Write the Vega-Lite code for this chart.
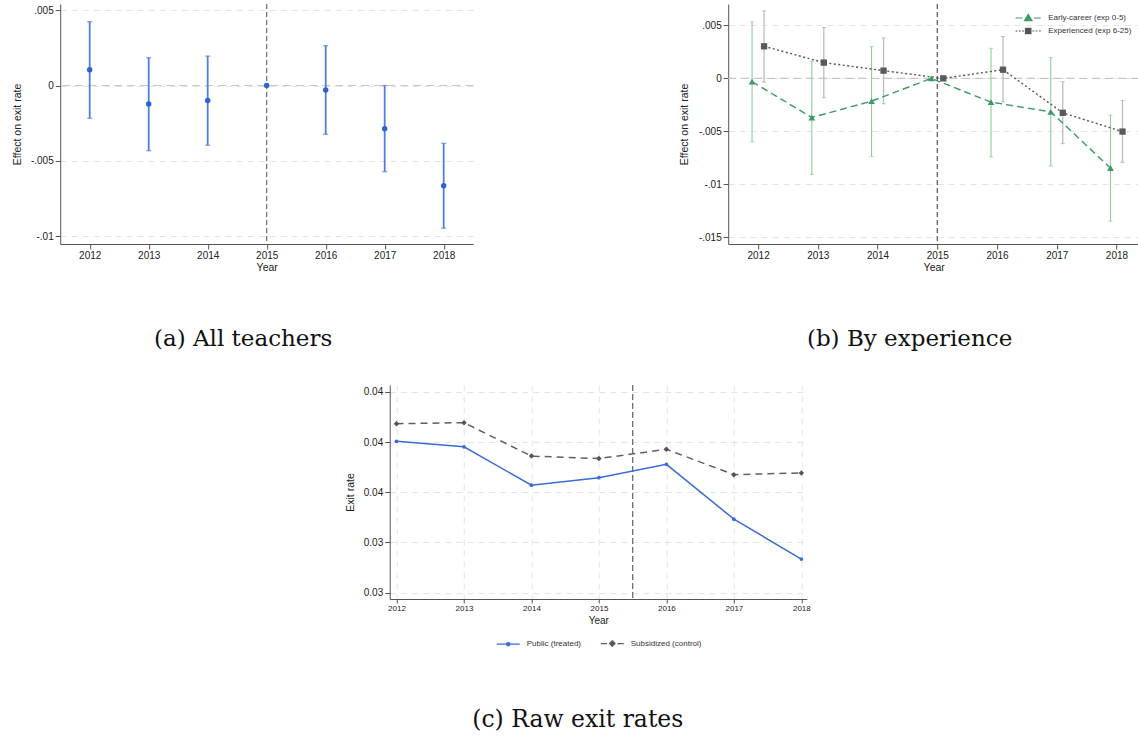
{
  "$schema": "https://vega.github.io/schema/vega-lite/v6.json",
  "autosize": {"type": "pad"},
  "padding": {"left": 12, "top": 3, "right": 0, "bottom": 0},
  "background": "white",
  "config": {
    "view": {"stroke": null},
    "font": "Liberation Sans",
    "axis": {
      "domainColor": "#555555",
      "tickColor": "#555555",
      "labelColor": "#222222",
      "titleColor": "#222222",
      "labelFont": "Liberation Sans",
      "titleFont": "Liberation Sans",
      "titleFontWeight": "normal",
      "labelFontSize": 10,
      "titleFontSize": 10.5,
      "gridColor": "#E4E4E4",
      "gridDash": [6, 5],
      "tickSize": 5,
      "labelPadding": 2
    },
    "legend": {
      "labelFont": "Liberation Sans",
      "labelFontSize": 8,
      "labelColor": "#333333",
      "layout": {"bottom": {"anchor": "middle"}}
    },
    "title": {
      "font": "DejaVu Serif",
      "fontWeight": "normal",
      "fontSize": 23,
      "color": "#111111",
      "orient": "bottom",
      "frame": "bounds"
    }
  },
  "datasets": {
    "all": [
      {"year": 2012, "est": 0.00104, "lo": -0.00217, "hi": 0.00423},
      {"year": 2013, "est": -0.00122, "lo": -0.00432, "hi": 0.00184},
      {"year": 2014, "est": -0.0010, "lo": -0.00396, "hi": 0.00195},
      {"year": 2015, "est": 0, "lo": null, "hi": null},
      {"year": 2016, "est": -0.00029, "lo": -0.00323, "hi": 0.00264},
      {"year": 2017, "est": -0.00286, "lo": -0.00571, "hi": 0.0},
      {"year": 2018, "est": -0.00664, "lo": -0.00945, "hi": -0.00383}
    ],
    "byexp": [
      {"year": 2012, "group": "Early-career (exp 0-5)", "est": -0.00031, "lo": -0.0060, "hi": 0.00533},
      {"year": 2013, "group": "Early-career (exp 0-5)", "est": -0.00369, "lo": -0.00906, "hi": 0.00161},
      {"year": 2014, "group": "Early-career (exp 0-5)", "est": -0.00215, "lo": -0.00736, "hi": 0.0030},
      {"year": 2015, "group": "Early-career (exp 0-5)", "est": 0, "lo": null, "hi": null},
      {"year": 2016, "group": "Early-career (exp 0-5)", "est": -0.00224, "lo": -0.00741, "hi": 0.00284},
      {"year": 2017, "group": "Early-career (exp 0-5)", "est": -0.00316, "lo": -0.00827, "hi": 0.00196},
      {"year": 2018, "group": "Early-career (exp 0-5)", "est": -0.00846, "lo": -0.01348, "hi": -0.00347},
      {"year": 2012, "group": "Experienced (exp 6-25)", "est": 0.00303, "lo": -0.00035, "hi": 0.00637},
      {"year": 2013, "group": "Experienced (exp 6-25)", "est": 0.00149, "lo": -0.00183, "hi": 0.0048},
      {"year": 2014, "group": "Experienced (exp 6-25)", "est": 0.00073, "lo": -0.0024, "hi": 0.00382},
      {"year": 2015, "group": "Experienced (exp 6-25)", "est": 0, "lo": null, "hi": null},
      {"year": 2016, "group": "Experienced (exp 6-25)", "est": 0.00082, "lo": -0.00221, "hi": 0.00395},
      {"year": 2017, "group": "Experienced (exp 6-25)", "est": -0.00325, "lo": -0.00616, "hi": -0.00031},
      {"year": 2018, "group": "Experienced (exp 6-25)", "est": -0.00502, "lo": -0.00792, "hi": -0.00208}
    ],
    "raw": [
      {"year": 2012, "sector": "Public (treated)", "rate": 0.03803},
      {"year": 2013, "sector": "Public (treated)", "rate": 0.03781},
      {"year": 2014, "sector": "Public (treated)", "rate": 0.03628},
      {"year": 2015, "sector": "Public (treated)", "rate": 0.03658},
      {"year": 2016, "sector": "Public (treated)", "rate": 0.03711},
      {"year": 2017, "sector": "Public (treated)", "rate": 0.03493},
      {"year": 2018, "sector": "Public (treated)", "rate": 0.03334},
      {"year": 2012, "sector": "Subsidized (control)", "rate": 0.03873},
      {"year": 2013, "sector": "Subsidized (control)", "rate": 0.03877},
      {"year": 2014, "sector": "Subsidized (control)", "rate": 0.03744},
      {"year": 2015, "sector": "Subsidized (control)", "rate": 0.03734},
      {"year": 2016, "sector": "Subsidized (control)", "rate": 0.03771},
      {"year": 2017, "sector": "Subsidized (control)", "rate": 0.0367},
      {"year": 2018, "sector": "Subsidized (control)", "rate": 0.03677}
    ]
  },
  "spacing": 33,
  "center": true,
  "resolve": {"scale": {"color": "independent"}, "legend": {"color": "independent"}},
  "vconcat": [
    {
      "spacing": 205,
      "resolve": {"scale": {"color": "independent"}, "legend": {"color": "independent"}},
      "hconcat": [
        {
          "width": 413,
          "height": 240,
          "title": {"text": "(a) All teachers", "offset": 55},
          "data": {"name": "all"},
          "layer": [
            {
              "data": {"values": [{"ref": 0}]},
              "mark": {"type": "rule", "color": "#C6C6C6", "strokeWidth": 1.2, "strokeDash": [8, 5]},
              "encoding": {"y": {"field": "ref", "type": "quantitative", "title": "Effect on exit rate"}}
            },
            {
              "data": {"values": [{"ref": 2015}]},
              "mark": {"type": "rule", "color": "#6B6B6B", "strokeWidth": 1.2, "strokeDash": [5, 3]},
              "encoding": {"x": {"field": "ref", "type": "quantitative", "title": "Year"}}
            },
            {
              "mark": {"type": "rule", "color": "#4F7FDB", "strokeWidth": 1.8},
              "encoding": {
                "x": {"field": "year", "type": "quantitative", "title": "Year"},
                "y": {"field": "lo", "type": "quantitative", "title": "Effect on exit rate"},
                "y2": {"field": "hi"}
              }
            },
            {
              "mark": {"type": "tick", "orient": "horizontal", "color": "#4F7FDB", "size": 5, "thickness": 1.3},
              "encoding": {
                "x": {"field": "year", "type": "quantitative", "title": "Year"},
                "y": {"field": "lo", "type": "quantitative", "title": "Effect on exit rate"}
              }
            },
            {
              "mark": {"type": "tick", "orient": "horizontal", "color": "#4F7FDB", "size": 5, "thickness": 1.3},
              "encoding": {
                "x": {"field": "year", "type": "quantitative", "title": "Year"},
                "y": {"field": "hi", "type": "quantitative", "title": "Effect on exit rate"}
              }
            },
            {
              "mark": {"type": "circle", "color": "#2F62CF", "size": 30, "opacity": 1},
              "encoding": {
                "x": {
                  "field": "year", "type": "quantitative", "title": "Year",
                  "scale": {"domain": [2011.5, 2018.5], "nice": false, "zero": false},
                  "axis": {"values": [2012, 2013, 2014, 2015, 2016, 2017, 2018], "format": "d", "grid": false, "labelPadding": 1, "titlePadding": 2}
                },
                "y": {
                  "field": "est", "type": "quantitative", "title": "Effect on exit rate",
                  "scale": {"domain": [-0.0105, 0.0054], "nice": false, "zero": false},
                  "axis": {
                    "values": [-0.01, -0.005, 0, 0.005],
                    "labelExpr": "(datum.value < 0 ? '-' : '') + replace(format(abs(datum.value), '~r'), '0.', '.')",
                    "grid": true, "titlePadding": 8
                  }
                }
              }
            }
          ]
        },
        {
          "width": 411,
          "height": 240,
          "title": {"text": "(b) By experience", "offset": 55},
          "data": {"name": "byexp"},
          "layer": [
            {
              "data": {"values": [{"ref": 0}]},
              "mark": {"type": "rule", "color": "#C6C6C6", "strokeWidth": 1.2, "strokeDash": [8, 5]},
              "encoding": {"y": {"field": "ref", "type": "quantitative", "title": "Effect on exit rate"}}
            },
            {
              "data": {"values": [{"ref": 2015}]},
              "mark": {"type": "rule", "color": "#555555", "strokeWidth": 1.2, "strokeDash": [5, 3]},
              "encoding": {"x": {"field": "ref", "type": "quantitative", "title": "Year"}}
            },
            {
              "transform": [{"filter": "datum.group === 'Early-career (exp 0-5)'"}],
              "layer": [
                {"mark": {"type": "rule", "color": "#8FCB9F", "strokeWidth": 1.1, "xOffset": -6},
                 "encoding": {"x": {"field": "year", "type": "quantitative", "title": "Year"}, "y": {"field": "lo", "type": "quantitative", "title": "Effect on exit rate"}, "y2": {"field": "hi"}}},
                {"mark": {"type": "tick", "orient": "horizontal", "color": "#8FCB9F", "size": 4, "thickness": 1, "xOffset": -6},
                 "encoding": {"x": {"field": "year", "type": "quantitative", "title": "Year"}, "y": {"field": "lo", "type": "quantitative", "title": "Effect on exit rate"}}},
                {"mark": {"type": "tick", "orient": "horizontal", "color": "#8FCB9F", "size": 4, "thickness": 1, "xOffset": -6},
                 "encoding": {"x": {"field": "year", "type": "quantitative", "title": "Year"}, "y": {"field": "hi", "type": "quantitative", "title": "Effect on exit rate"}}}
              ]
            },
            {
              "transform": [{"filter": "datum.group === 'Experienced (exp 6-25)'"}],
              "layer": [
                {"mark": {"type": "rule", "color": "#BDBDBD", "strokeWidth": 1.3, "xOffset": 6},
                 "encoding": {"x": {"field": "year", "type": "quantitative", "title": "Year"}, "y": {"field": "lo", "type": "quantitative", "title": "Effect on exit rate"}, "y2": {"field": "hi"}}},
                {"mark": {"type": "tick", "orient": "horizontal", "color": "#A8A8A8", "size": 4, "thickness": 1, "xOffset": 6},
                 "encoding": {"x": {"field": "year", "type": "quantitative", "title": "Year"}, "y": {"field": "lo", "type": "quantitative", "title": "Effect on exit rate"}}},
                {"mark": {"type": "tick", "orient": "horizontal", "color": "#A8A8A8", "size": 4, "thickness": 1, "xOffset": 6},
                 "encoding": {"x": {"field": "year", "type": "quantitative", "title": "Year"}, "y": {"field": "hi", "type": "quantitative", "title": "Effect on exit rate"}}}
              ]
            },
            {
              "transform": [{"filter": "datum.group === 'Early-career (exp 0-5)'"}],
              "mark": {"type": "line", "strokeWidth": 1.4, "strokeDash": [7, 4], "xOffset": -6},
              "encoding": {
                "x": {"field": "year", "type": "quantitative", "title": "Year"},
                "y": {"field": "est", "type": "quantitative", "title": "Effect on exit rate"},
                "color": {
                  "field": "group", "type": "nominal",
                  "scale": {"domain": ["Early-career (exp 0-5)", "Experienced (exp 6-25)"], "range": ["#3E9A62", "#555555"]},
                  "legend": {
                    "title": null, "orient": "top-right", "offset": 7, "symbolSize": 144, "rowPadding": 0, "labelOffset": 13,
                    "encode": {"symbols": {"update": {
                      "shape": {"signal": "datum.value === 'Early-career (exp 0-5)' ? 'M-2.1,0H-0.95M0.95,0H2.1M0,-0.6L0.62,0.45L-0.62,0.45Z' : 'M-2.1,0H-1.8M-1.55,0H-1.25M-1,0H-0.7M0.7,0H1M1.25,0H1.55M1.8,0H2.1M-0.45,-0.45H0.45V0.45H-0.45Z'"},
                      "fill": {"signal": "datum.value === 'Early-career (exp 0-5)' ? '#3E9A62' : '#555555'"},
                      "stroke": {"signal": "datum.value === 'Early-career (exp 0-5)' ? '#3E9A62' : '#555555'"},
                      "strokeDash": {"value": []},
                      "strokeWidth": {"value": 1.2},
                      "opacity": {"value": 1}
                    }}}
                  }
                }
              }
            },
            {
              "transform": [{"filter": "datum.group === 'Experienced (exp 6-25)'"}],
              "mark": {"type": "line", "strokeWidth": 1.4, "strokeDash": [2, 2.5], "xOffset": 6},
              "encoding": {
                "x": {"field": "year", "type": "quantitative", "title": "Year"},
                "y": {"field": "est", "type": "quantitative", "title": "Effect on exit rate"},
                "color": {"field": "group", "type": "nominal"}
              }
            },
            {
              "transform": [{"filter": "datum.group === 'Early-career (exp 0-5)'"}],
              "mark": {"type": "point", "shape": "triangle-up", "filled": true, "color": "#3E9A62", "size": 45, "opacity": 1, "xOffset": -6},
              "encoding": {
                "x": {"field": "year", "type": "quantitative", "title": "Year"},
                "y": {"field": "est", "type": "quantitative", "title": "Effect on exit rate"}
              }
            },
            {
              "transform": [{"filter": "datum.group === 'Experienced (exp 6-25)'"}],
              "mark": {"type": "square", "color": "#5A5A5A", "size": 40, "opacity": 1, "xOffset": 6},
              "encoding": {
                "x": {
                  "field": "year", "type": "quantitative", "title": "Year",
                  "scale": {"domain": [2011.5, 2018.38], "nice": false, "zero": false},
                  "axis": {"values": [2012, 2013, 2014, 2015, 2016, 2017, 2018], "format": "d", "grid": false, "labelPadding": 1, "titlePadding": 2}
                },
                "y": {
                  "field": "est", "type": "quantitative", "title": "Effect on exit rate",
                  "scale": {"domain": [-0.01563, 0.00702], "nice": false, "zero": false},
                  "axis": {
                    "values": [-0.015, -0.01, -0.005, 0, 0.005],
                    "labelExpr": "(datum.value < 0 ? '-' : '') + replace(format(abs(datum.value), '~r'), '0.', '.')",
                    "grid": true, "titlePadding": 9
                  }
                }
              }
            }
          ]
        }
      ]
    },
    {
      "width": 417,
      "height": 214,
      "title": {"text": "(c) Raw exit rates", "offset": 59, "fontSize": 23.5},
      "data": {"name": "raw"},
      "layer": [
        {
          "data": {"values": [{"ref": 2015.5}]},
          "mark": {"type": "rule", "color": "#6E6E6E", "strokeWidth": 1.3, "strokeDash": [6, 3]},
          "encoding": {"x": {"field": "ref", "type": "quantitative", "title": "Year"}}
        },
        {
          "transform": [{"filter": "datum.sector === 'Public (treated)'"}],
          "mark": {"type": "line", "strokeWidth": 1.5},
          "encoding": {
            "x": {"field": "year", "type": "quantitative", "title": "Year"},
            "y": {"field": "rate", "type": "quantitative", "title": "Exit rate"},
            "color": {
              "field": "sector", "type": "nominal",
              "scale": {"domain": ["Public (treated)", "Subsidized (control)"], "range": ["#3A6BD6", "#606060"]},
              "legend": {
                "title": null, "orient": "bottom", "direction": "horizontal", "symbolSize": 529, "labelOffset": 6, "columnPadding": 16, "offset": 6,
                "encode": {"symbols": {"update": {
                  "shape": {"signal": "datum.value === 'Public (treated)' ? 'M-1,0H1M-0.14,0A0.14,0.14 0 1,0 0.14,0A0.14,0.14 0 1,0 -0.14,0Z' : 'M-1,0H-0.45M0.45,0H1M0,-0.24L0.24,0L0,0.24L-0.24,0Z'"},
                  "fill": {"signal": "datum.value === 'Public (treated)' ? '#3A6BD6' : '#555555'"},
                  "stroke": {"signal": "datum.value === 'Public (treated)' ? '#3A6BD6' : '#606060'"},
                  "strokeDash": {"value": []},
                  "strokeWidth": {"value": 1.3},
                  "opacity": {"value": 1}
                }}}
              }
            }
          }
        },
        {
          "transform": [{"filter": "datum.sector === 'Subsidized (control)'"}],
          "mark": {"type": "line", "strokeWidth": 1.5, "strokeDash": [7, 5]},
          "encoding": {
            "x": {"field": "year", "type": "quantitative", "title": "Year"},
            "y": {"field": "rate", "type": "quantitative", "title": "Exit rate"},
            "color": {"field": "sector", "type": "nominal"}
          }
        },
        {
          "transform": [{"filter": "datum.sector === 'Public (treated)'"}],
          "mark": {"type": "circle", "color": "#3A6BD6", "size": 14, "opacity": 1},
          "encoding": {
            "x": {"field": "year", "type": "quantitative", "title": "Year"},
            "y": {"field": "rate", "type": "quantitative", "title": "Exit rate"}
          }
        },
        {
          "transform": [{"filter": "datum.sector === 'Subsidized (control)'"}],
          "mark": {"type": "point", "shape": "diamond", "filled": true, "color": "#555555", "size": 30, "opacity": 1},
          "encoding": {
            "x": {
              "field": "year", "type": "quantitative", "title": "Year",
              "scale": {"domain": [2011.9, 2018.08], "nice": false, "zero": false},
              "axis": {"values": [2012, 2013, 2014, 2015, 2016, 2017, 2018], "format": "d", "grid": true, "labelFontSize": 8, "tickSize": 4, "labelPadding": 1, "titlePadding": 3, "titleFontSize": 10}
            },
            "y": {
              "field": "rate", "type": "quantitative", "title": "Exit rate",
              "scale": {"domain": [0.03175, 0.04027], "nice": false, "zero": false},
              "axis": {"values": [0.032, 0.034, 0.036, 0.038, 0.04], "format": ".2f", "grid": true, "titlePadding": 8}
            }
          }
        }
      ]
    }
  ]
}
